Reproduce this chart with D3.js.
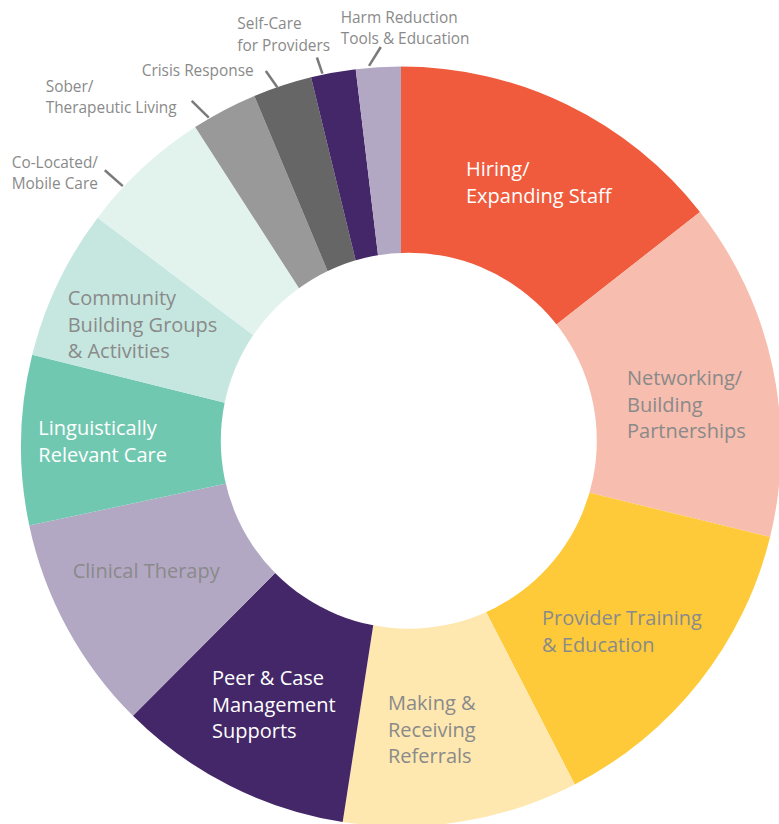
<!DOCTYPE html>
<html>
<head>
<meta charset="utf-8">
<script src="https://cdn.jsdelivr.net/npm/d3@7"></script>
<style>
  html, body { margin: 0; padding: 0; background: #fff; }
  svg { display: block; }
  text { font-family: "Open Sans", "Noto Sans", sans-serif; }
</style>
</head>
<body>
<svg id="chart" width="779" height="824"></svg>
<script>
// ---- data ----
const categories = [
  "Hiring/\nExpanding Staff",
  "Networking/\nBuilding\nPartnerships",
  "Provider Training\n& Education",
  "Making &\nReceiving\nReferrals",
  "Peer & Case\nManagement\nSupports",
  "Clinical Therapy",
  "Linguistically\nRelevant Care",
  "Community\nBuilding Groups\n& Activities",
  "Co-Located/\nMobile Care",
  "Sober/\nTherapeutic Living",
  "Crisis Response",
  "Self-Care\nfor Providers",
  "Harm Reduction\nTools & Education"
];
const values = [14.4, 14.4, 13.6, 10.0, 10.0, 9.2, 7.2, 6.4, 5.6, 2.8, 2.5, 1.9, 1.9];
const colors = ["#EF5B3C", "#F7BDAE", "#FECA3A", "#FEE8B0", "#442768", "#B3A8C4",
                "#71C8B0", "#C6E7DF", "#E2F3EE", "#999999", "#666666", "#442768", "#B3A8C4"];

// ---- layout (positions relative to the chart centre) ----
const labelLayout = [
  {dx: 65,    dy: -270.5, fill: "#fff",    inside: true},
  {dx: 226,   dy: -61.5,  fill: "#8a8a8a", inside: true},
  {dx: 141,   dy: 178.5,  fill: "#8a8a8a", inside: true},
  {dx: -13,   dy: 263.5,  fill: "#8a8a8a", inside: true},
  {dx: -189,  dy: 238.5,  fill: "#fff",    inside: true},
  {dx: -328.3,dy: 131.8,  fill: "#8a8a8a", inside: true},
  {dx: -362.7,dy: -11.5,  fill: "#fff",    inside: true},
  {dx: -333.3,dy: -141.5, fill: "#8a8a8a", inside: true},
  {dx: -389.3,dy: -278.8, fill: "#8a8a8a", inside: false, leader: [313, 405, 313.1, 381]},
  {dx: -355.3,dy: -354.8, fill: "#8a8a8a", inside: false, leader: [328.8, 404, 329.7, 381]},
  {dx: -259.3,dy: -370.5, fill: "#8a8a8a", inside: false, leader: [340.2, 399, 341, 380]},
  {dx: -163.7,dy: -417.2, fill: "#8a8a8a", inside: false, leader: [347.8, 398, 348.1, 381]},
  {dx: -60.3, dy: -423.8, fill: "#8a8a8a", inside: false, leader: [357.1, 400, 355.2, 382]}
];

const W = 779, H = 824;
const cx = 401, cy = 446.5;
const outerR = 380, innerR = 170;
const holeOffset = {x: 7.8, y: -5.8}, holeR = 188;

const svg = d3.select("#chart");
svg.append("rect").attr("width", W).attr("height", H).attr("fill", "#fff");

const g = svg.append("g").attr("transform", `translate(${cx},${cy})`);

const data = categories.map((c, i) => ({name: c, value: values[i], color: colors[i], layout: labelLayout[i]}));

const pie = d3.pie().sort(null).value(d => d.value).startAngle(0).endAngle(2 * Math.PI);
const arc = d3.arc().innerRadius(innerR).outerRadius(outerR);

g.selectAll("path.slice")
  .data(pie(data))
  .join("path")
  .attr("class", "slice")
  .attr("d", arc)
  .attr("fill", d => d.data.color);

// white hole
g.append("circle")
  .attr("cx", holeOffset.x).attr("cy", holeOffset.y).attr("r", holeR)
  .attr("fill", "#fff");

// leader lines
const polar = (deg, r) => {
  const a = deg * Math.PI / 180;
  return [r * Math.sin(a), -r * Math.cos(a)];
};
g.selectAll("line.leader")
  .data(data.filter(d => d.layout.leader))
  .join("line")
  .attr("class", "leader")
  .each(function(d) {
    const [a1, r1, a2, r2] = d.layout.leader;
    const p1 = polar(a1, r1), p2 = polar(a2, r2);
    d3.select(this).attr("x1", p1[0]).attr("y1", p1[1]).attr("x2", p2[0]).attr("y2", p2[1]);
  })
  .attr("stroke", "#7a7a7a")
  .attr("stroke-width", 2.5);

// labels
const labels = g.selectAll("text.label")
  .data(data)
  .join("text")
  .attr("class", "label")
  .attr("x", d => d.layout.dx)
  .attr("y", d => d.layout.dy)
  .attr("fill", d => d.layout.fill)
  .attr("font-size", d => d.layout.inside ? 20 : 15.4);

labels.each(function(d) {
  const lines = d.name.split("\n");
  const lh = d.layout.inside ? 26.5 : 21.5;
  d3.select(this).selectAll("tspan")
    .data(lines)
    .join("tspan")
    .attr("x", d.layout.dx)
    .attr("dy", (l, i) => i === 0 ? 0 : lh)
    .text(l => l);
});
</script>
</body>
</html>
